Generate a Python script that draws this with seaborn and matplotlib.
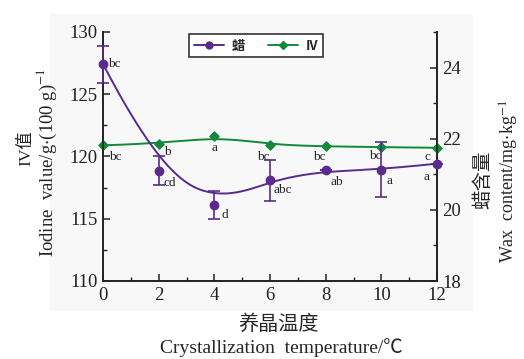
import numpy as np
import matplotlib
matplotlib.use("Agg")
import matplotlib.pyplot as plt
import seaborn as sns
from matplotlib.lines import Line2D
from matplotlib.ticker import MultipleLocator

# data
temps = [0, 2, 4, 6, 8, 10, 12]
wax = [24.1, 21.1, 20.14, 20.83, 21.11, 21.13, 21.3]
wax_err = [0.52, 0.41, 0.40, 0.57, 0.0, 0.78, 0.0]
wax_letters = ["bc", "cd", "d", "abc", "ab", "a", "a"]
iv = [120.9, 121.02, 121.67, 120.94, 120.81, 120.75, 120.7]
iv_letters = ["bc", "b", "a", "bc", "bc", "bc", "c"]

# label offsets in pixels (dx, dy) and alignment
wax_offs = [(5, 0, "left"), (5, -12, "left"), (7, -10, "left"), (4, -10, "left"),
            (5, -12, "left"), (5, -11, "left"), (-7, -13, "right")]
iv_offs = [(6, -12, "left"), (5, -8, "left"), (0, -12, "center"), (-7, -12, "center"),
           (-6, -11, "center"), (-6, -9, "center"), (-10, -9, "center")]

purple = "#5b2a8c"
green = "#12893a"


def bspline(px, py, k=3, num=300):
    # clamped B-spline through control points (like Origin "B-spline" connect)
    px = np.asarray(px, float)
    py = np.asarray(py, float)
    n = len(px)
    t = np.concatenate([np.zeros(k), np.linspace(0, 1, n - k + 1), np.ones(k)])
    u = np.linspace(0, 1, num)
    u[-1] -= 1e-9
    N = np.zeros((num, len(t) - 1))
    for i in range(len(t) - 1):
        N[:, i] = (t[i] <= u) & (u < t[i + 1])
    for d in range(1, k + 1):
        Nn = np.zeros((num, len(t) - 1 - d))
        for i in range(len(t) - 1 - d):
            a = 0
            b = 0
            if t[i + d] != t[i]:
                a = (u - t[i]) / (t[i + d] - t[i]) * N[:, i]
            if t[i + d + 1] != t[i + 1]:
                b = (t[i + d + 1] - u) / (t[i + d + 1] - t[i + 1]) * N[:, i + 1]
            Nn[:, i] = a + b
        N = Nn
    return N @ px, N @ py


sns.set_style("ticks")
plt.rcParams["font.family"] = ["Liberation Serif", "Noto Sans CJK SC", "DejaVu Sans"]
plt.rcParams["mathtext.fontset"] = "stix"

fig = plt.figure(figsize=(5.24, 3.59), dpi=100)
fig.add_artist(plt.Rectangle((50 / 524, 1 - 310 / 359), 422 / 524, 296 / 359,
                             transform=fig.transFigure, color="#f8f8f8", zorder=0))
ax = fig.add_axes([103 / 524, 1 - 281 / 359, 334 / 524, 249 / 359])
ax.patch.set_alpha(0)
ax2 = ax.twinx()

# IV on left axis
sx, sy = bspline(temps, iv)
sns.lineplot(x=sx, y=sy, ax=ax, color=green, lw=1.4, sort=False, estimator=None)
ax.scatter(temps, iv, marker="D", s=22, color=green, zorder=5, clip_on=False)

# wax on right axis
sx, sy = bspline(temps, wax)
sns.lineplot(x=sx, y=sy, ax=ax2, color=purple, lw=1.4, sort=False, estimator=None)
ax2.errorbar(temps, wax, yerr=wax_err, fmt="o", ms=6, color=purple, ecolor=purple,
             elinewidth=1.2, capsize=4, capthick=1.2, zorder=5, clip_on=False)

for x, y, lab, (dx, dy, ha) in zip(temps, iv, iv_letters, iv_offs):
    ax.annotate(lab, (x, y), xytext=(dx, dy), textcoords="offset pixels",
                ha=ha, va="center", fontsize=9.5, color="#222222")
for x, y, lab, (dx, dy, ha) in zip(temps, wax, wax_letters, wax_offs):
    ax2.annotate(lab, (x, y), xytext=(dx, dy), textcoords="offset pixels",
                 ha=ha, va="center", fontsize=9.5, color="#222222")

ax.set_xlim(0, 12)
ax.set_ylim(110, 130)
ax2.set_ylim(18, 25)
ax.set_xticks(range(0, 13, 2))
ax.xaxis.set_minor_locator(MultipleLocator(1))
ax.set_yticks([110, 115, 120, 125, 130])
ax.yaxis.set_minor_locator(MultipleLocator(2.5))
ax2.set_yticks([18, 20, 22, 24])
ax2.yaxis.set_minor_locator(MultipleLocator(1))

for a in (ax, ax2):
    a.spines["top"].set_visible(False)
    for s in ("left", "right", "bottom"):
        a.spines[s].set_linewidth(1.2)
        a.spines[s].set_color("#222222")
    a.tick_params(which="major", direction="in", length=5, width=1.1, labelsize=13.5,
                  colors="#222222", pad=4)
    a.tick_params(which="minor", direction="in", length=3, width=1.0, colors="#222222")
ax.tick_params(axis="x", pad=4)

# axis titles
fig.text(26 / 524, 1 - 148 / 359, "IV值", rotation=90, ha="center", va="center", fontsize=12.5)
fig.text(47 / 524, 1 - 163 / 359, r"Iodine  value/g$\cdot$(100 g)$^{-1}$", rotation=90,
         ha="center", va="center", fontsize=13.5)
fig.text(483 / 524, 1 - 180 / 359, "蜡含量", rotation=90, ha="center", va="center", fontsize=14)
fig.text(509 / 524, 1 - 181 / 359, r"Wax  content/mg$\cdot$kg$^{-1}$", rotation=90,
         ha="center", va="center", fontsize=13)
fig.text(279 / 524, 1 - 325 / 359, "养晶温度", ha="center", va="center", fontsize=14.5)
fig.text(281 / 524, 1 - 348 / 359, "Crystallization  temperature/℃", ha="center",
         va="center", fontsize=14)

handles = [Line2D([], [], color=purple, marker="o", ms=5, lw=1.4),
           Line2D([], [], color=green, marker="D", ms=4, lw=1.4)]
leg = fig.legend(handles, ["蜡", "IV"], loc="upper left",
                 bbox_to_anchor=(189 / 524, 1 - 34 / 359), ncol=2, frameon=True,
                 fancybox=False, edgecolor="#222222", framealpha=1, handlelength=2.3,
                 columnspacing=1.7, borderpad=0.35, handletextpad=0.6,
                 borderaxespad=0,
                 prop={"family": "Noto Sans CJK SC", "weight": "bold", "size": 9.5})
leg.get_frame().set_linewidth(1.1)

fig.savefig("out.png", dpi=100)
